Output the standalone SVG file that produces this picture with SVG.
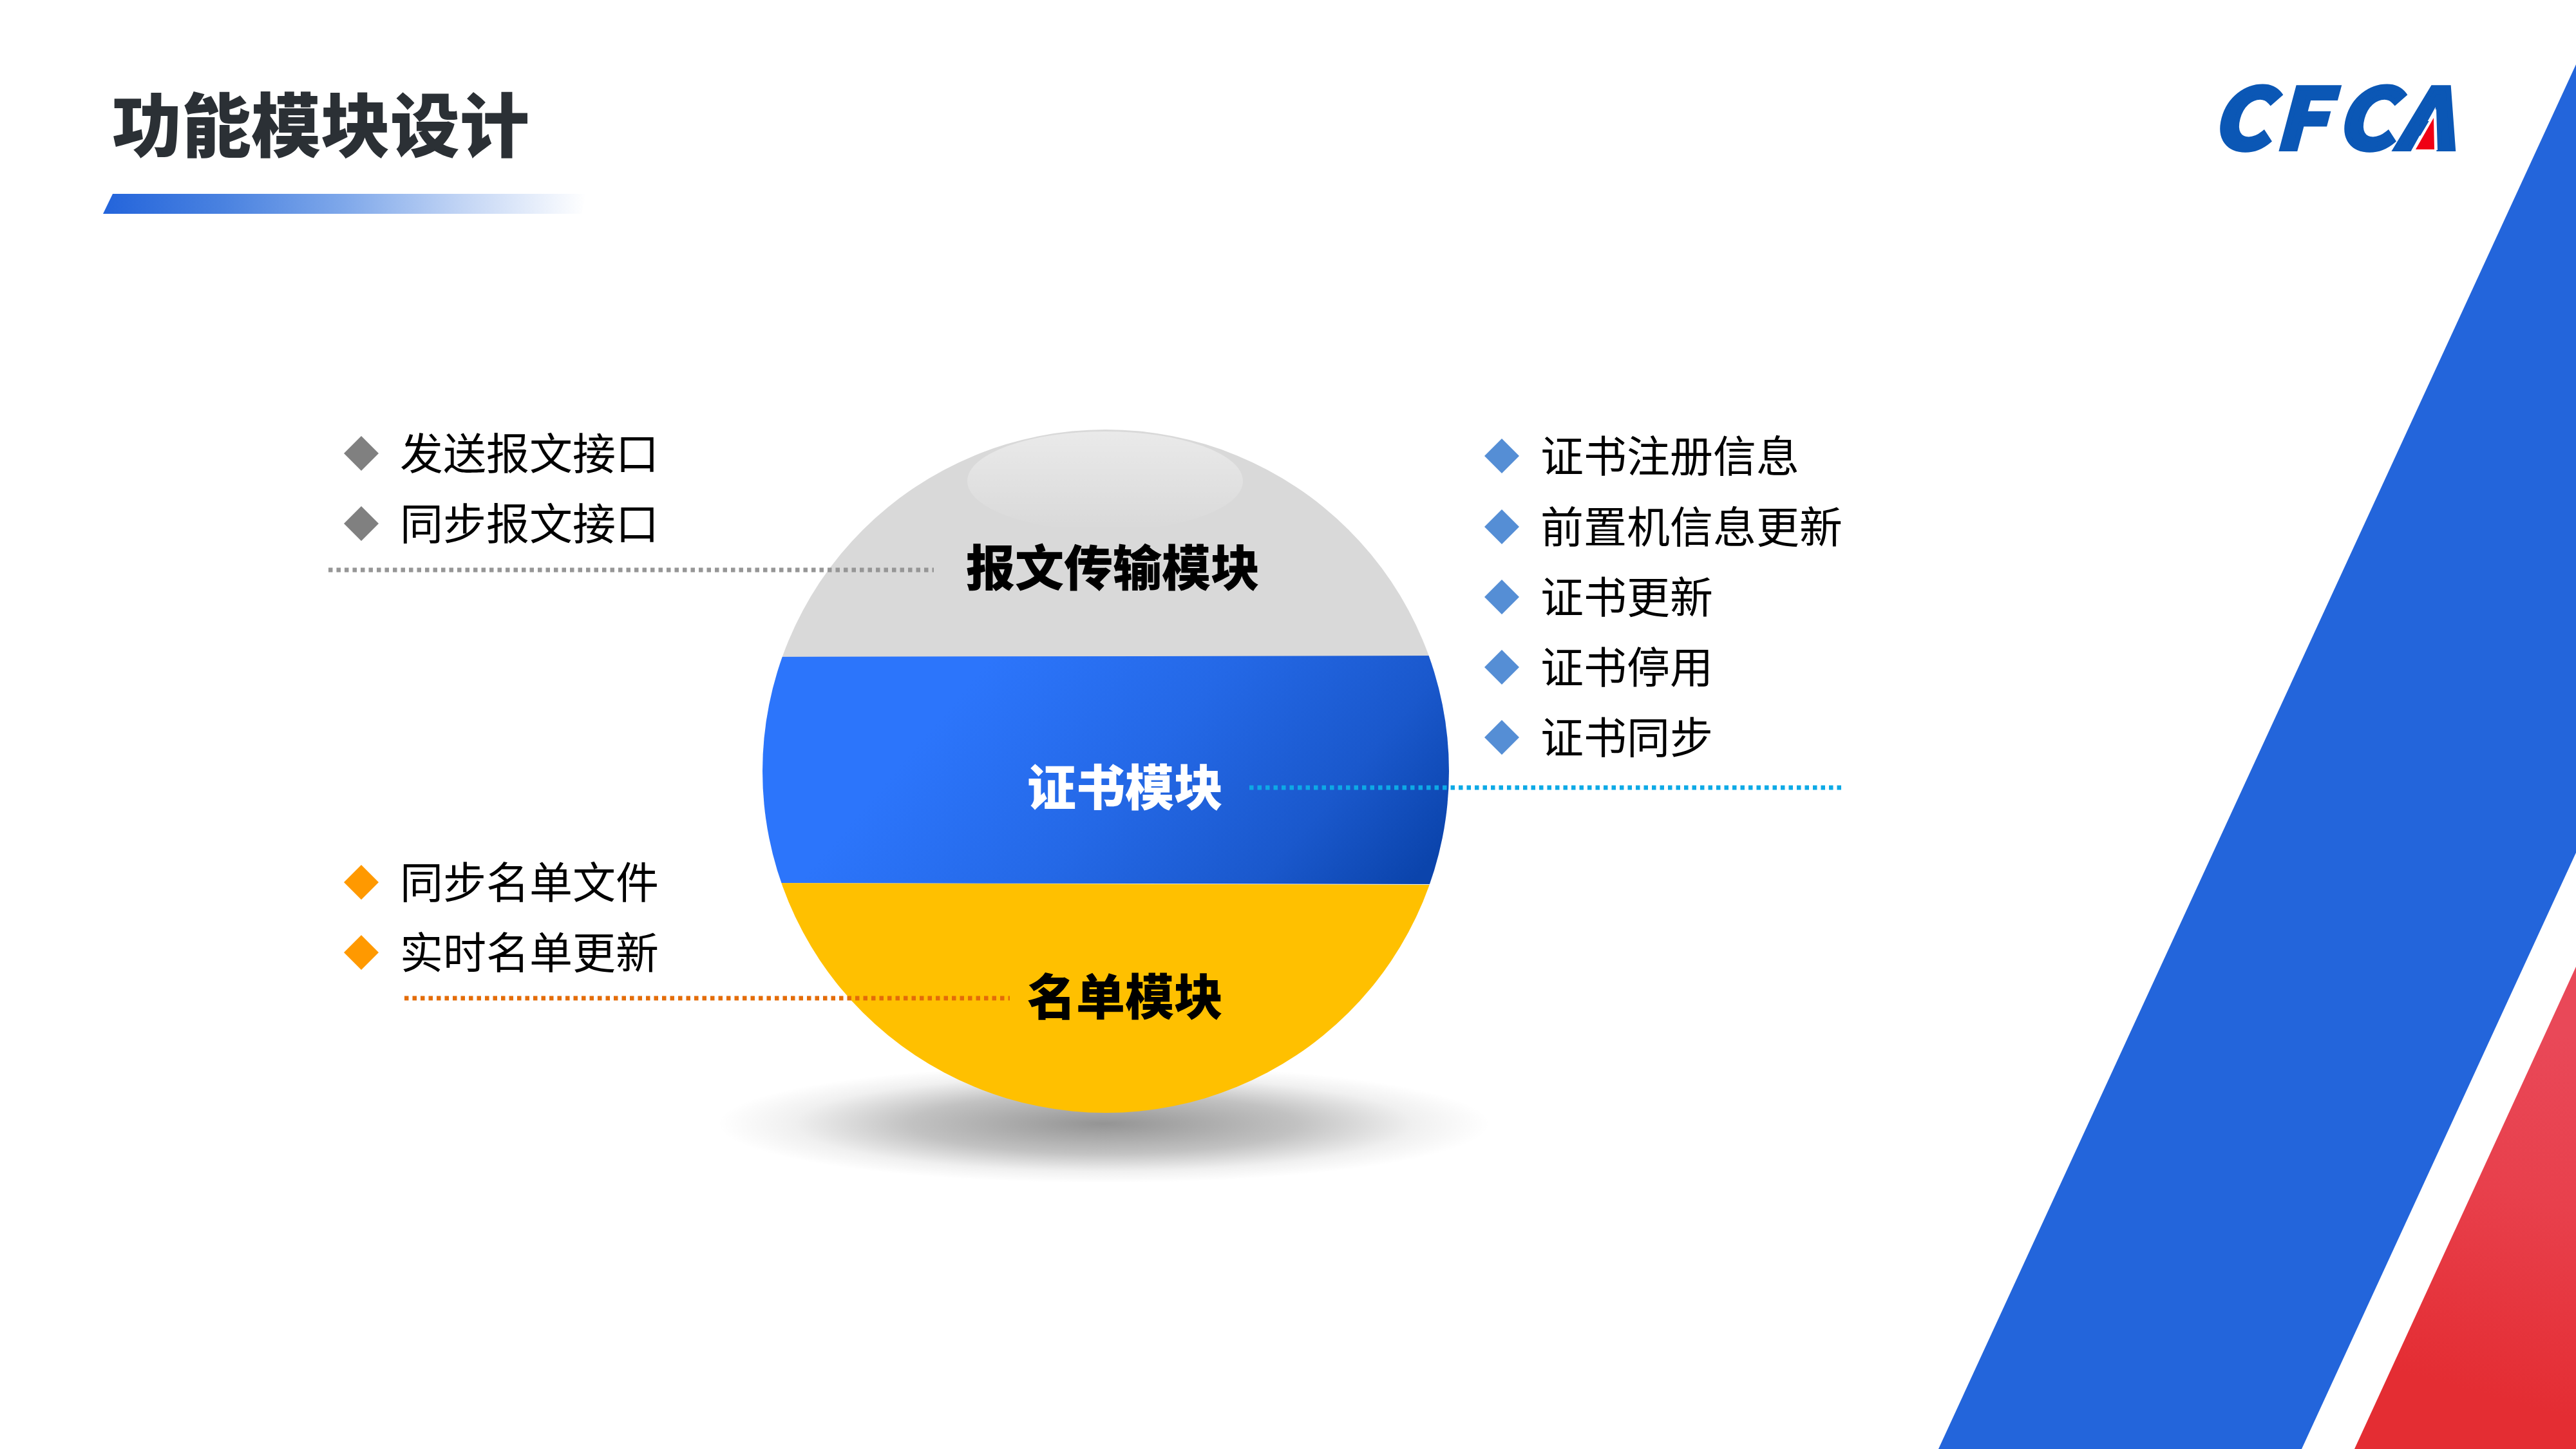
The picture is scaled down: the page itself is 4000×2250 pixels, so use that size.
<svg xmlns="http://www.w3.org/2000/svg" width="4000" height="2250" viewBox="0 0 4000 2250">
<style>
text{font-family:"Noto Sans CJK SC","Liberation Sans",sans-serif}
.item{font-size:67px;fill:#000}
.mod{font-size:76px;font-weight:900;text-anchor:middle}
.gray{fill:#808080}.blue{fill:#558ED5}.orange{fill:#FF9900}
.dot{fill:none;stroke-width:7;stroke-dasharray:6.5 6}
</style>
<defs>
<linearGradient id="barG" x1="0" y1="0" x2="1" y2="0"><stop offset="0" stop-color="#2364DB"/><stop offset=".25" stop-color="#4A82E0"/><stop offset=".5" stop-color="#7FA8EA"/><stop offset=".75" stop-color="#C4D6F5"/><stop offset="1" stop-color="#FFFFFF"/></linearGradient>
<linearGradient id="redG" gradientUnits="userSpaceOnUse" x1="3950" y1="1600" x2="3800" y2="2150"><stop offset="0" stop-color="#E94858"/><stop offset=".45" stop-color="#E8404C"/><stop offset="1" stop-color="#E42D33"/></linearGradient>
<linearGradient id="blueG" gradientUnits="userSpaceOnUse" x1="1600" y1="950" x2="2150" y2="1420"><stop offset="0" stop-color="#2C75FB"/><stop offset=".4" stop-color="#2468E6"/><stop offset=".75" stop-color="#1A58CC"/><stop offset="1" stop-color="#0B44AC"/></linearGradient>
<linearGradient id="hiG" x1="0" y1="0" x2="0" y2="1"><stop offset="0" stop-color="#FFFFFF" stop-opacity=".45"/><stop offset="1" stop-color="#FFFFFF" stop-opacity="0"/></linearGradient>
<radialGradient id="shG"><stop offset="0" stop-color="#000" stop-opacity=".42"/><stop offset=".5" stop-color="#000" stop-opacity=".24"/><stop offset=".8" stop-color="#000" stop-opacity=".06"/><stop offset="1" stop-color="#000" stop-opacity="0"/></radialGradient>
<clipPath id="ball"><ellipse cx="1717" cy="1197.5" rx="533" ry="530.5"/></clipPath>
</defs>
<rect width="4000" height="2250" fill="#FFFFFF"/>
<g id="background">
<polygon points="3010,2250 4000,100 4000,1324 3574,2250" fill="#2365DB"/>
<polygon points="3656,2250 4000,1501 4000,2250" fill="url(#redG)"/>
</g>
<g id="title">
<text x="174" y="235" font-size="108" font-weight="900" fill="#2B3035">功能模块设计</text>
<polygon points="175,301 910,301 903,332 160,332" fill="url(#barG)"/>
</g>
<g id="logo">
<text transform="translate(3434,231) scale(1.06,1)" x="0 92 182 271" font-family="Liberation Sans" font-size="128" font-weight="700" font-style="italic" fill="#0B57B5" stroke="#0B57B5" stroke-width="8">CFCA</text>
<polygon points="3783,169 3785,233 3745,233" fill="#FFFFFF"/>
<polygon points="3779,183 3780,232 3751,232" fill="#F00014"/>
</g>
<g id="sphere">
<ellipse cx="1714" cy="1745" rx="600" ry="92" fill="url(#shG)"/>
<g clip-path="url(#ball)">
<rect x="1180" y="660" width="1080" height="365" fill="#D9D9D9"/>
<polygon points="1180,1020 2260,1018 2260,1373 1180,1371" fill="url(#blueG)"/>
<polygon points="1180,1371 2260,1374 2260,1735 1180,1735" fill="#FFC000"/>
</g>
<ellipse cx="1716" cy="747" rx="214" ry="77" fill="url(#hiG)"/>
</g>
<g id="connectors">
<line class="dot" x1="510" y1="885" x2="1450" y2="885" stroke="#969696"/>
<line class="dot" x1="1940" y1="1223" x2="2860" y2="1223" stroke="#0DA9E6"/>
<line class="dot" x1="628" y1="1550" x2="1568" y2="1550" stroke="#E36C09"/>
</g>
<g id="module-message"><text class="mod" x="1728" y="910" fill="#000">报文传输模块</text></g>
<g id="module-cert"><text class="mod" x="1747" y="1251" fill="#FFF">证书模块</text></g>
<g id="module-list"><text class="mod" x="1747" y="1576" fill="#000">名单模块</text></g>
<g id="list-message">
<polygon class="gray" points="561,677 588,704 561,731 534,704"/><text class="item" x="621" y="729">发送报文接口</text>
<polygon class="gray" points="561,786 588,813 561,840 534,813"/><text class="item" x="621" y="838">同步报文接口</text>
</g>
<g id="list-cert">
<polygon class="blue" points="2332,681 2359,708 2332,735 2305,708"/><text class="item" x="2392" y="733">证书注册信息</text>
<polygon class="blue" points="2332,791 2359,818 2332,845 2305,818"/><text class="item" x="2392" y="843">前置机信息更新</text>
<polygon class="blue" points="2332,900 2359,927 2332,954 2305,927"/><text class="item" x="2392" y="952">证书更新</text>
<polygon class="blue" points="2332,1009 2359,1036 2332,1063 2305,1036"/><text class="item" x="2392" y="1061">证书停用</text>
<polygon class="blue" points="2332,1118 2359,1145 2332,1172 2305,1145"/><text class="item" x="2392" y="1170">证书同步</text>
</g>
<g id="list-names">
<polygon class="orange" points="561,1343 588,1370 561,1397 534,1370"/><text class="item" x="621" y="1395">同步名单文件</text>
<polygon class="orange" points="561,1452 588,1479 561,1506 534,1479"/><text class="item" x="621" y="1504">实时名单更新</text>
</g>
</svg>
